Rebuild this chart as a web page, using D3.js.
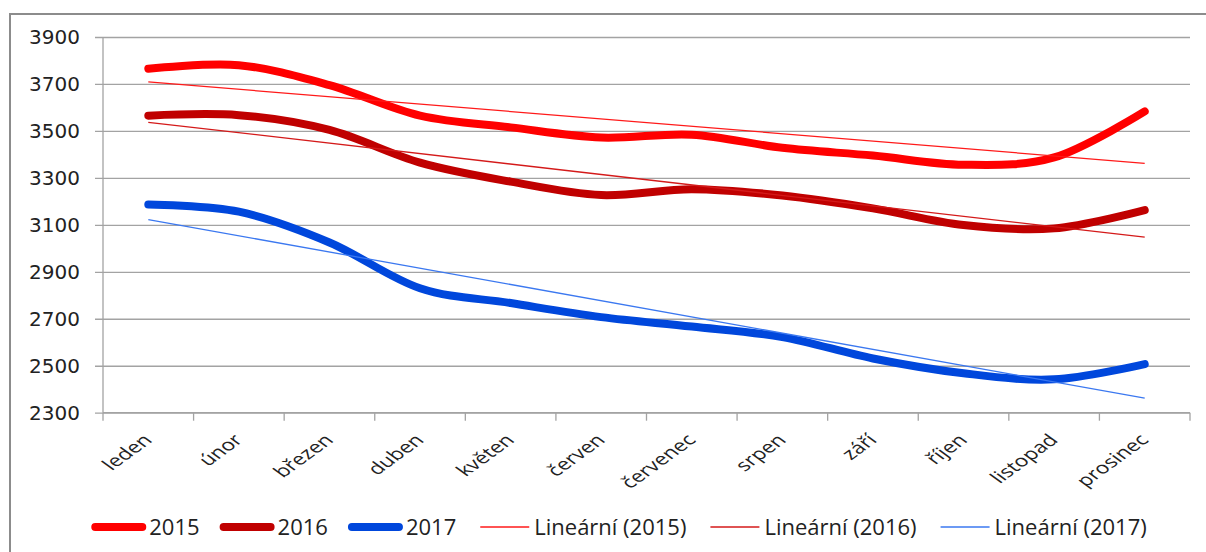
<!DOCTYPE html>
<html>
<head>
<meta charset="utf-8">
<script src="https://cdn.jsdelivr.net/npm/d3@7"></script>
<style>
  body { margin: 0; background: #fff; }
  svg { display: block; }
</style>
</head>
<body>
<div id="wrapper"></div>
<script>
// data
const months = ["leden", "únor", "březen", "duben", "květen", "červen",
    "červenec", "srpen", "září", "říjen", "listopad", "prosinec"];
const values2015 = [3765, 3780, 3695, 3565, 3515, 3472, 3484, 3428, 3395, 3356, 3387, 3583];
const values2016 = [3565, 3567, 3504, 3365, 3284, 3227, 3252, 3225, 3170, 3099, 3085, 3163];
const values2017 = [3187, 3156, 3025, 2830, 2767, 2707, 2667, 2622, 2531, 2468, 2442, 2507];
const yTicks = [2300, 2500, 2700, 2900, 3100, 3300, 3500, 3700, 3900];
const seriesNames = ["2015", "2016", "2017"];
const trendNames = ["Lineární (2015)", "Lineární (2016)", "Lineární (2017)"];

const colors = ["#ff0000", "#c00000", "#0047dc"];
const trendColors = ["#ff1a1a", "#d41a1a", "#3b78f0"];

var dimension = {
    width: 1206,
    height: 552,
    left: 103,
    right: 1190,
    top: 37,
    bottom: 412.7
};

const svg = d3.select("#wrapper").append("svg")
    .attr("width", dimension.width)
    .attr("height", dimension.height);

// outer chart border (runs off the right and bottom edge)
svg.append("rect")
    .attr("x", 10).attr("y", 14)
    .attr("width", 1300).attr("height", 700)
    .attr("fill", "none")
    .attr("stroke", "#8c8c8c")
    .attr("stroke-width", 2);

const xScaler = d3.scaleBand()
    .domain(months)
    .range([dimension.left, dimension.right]);

const yScaler = d3.scaleLinear()
    .domain([2300, 3900])
    .range([dimension.bottom, dimension.top]);

const xCenter = (m) => xScaler(m) + xScaler.bandwidth() / 2;

// y axis with gridlines
const yAxis = d3.axisLeft(yScaler)
    .tickValues(yTicks)
    .tickSize(-(dimension.right - 95))
    .tickPadding(15)
    .tickFormat(d3.format("d"));

const yg = svg.append("g")
    .attr("transform", "translate(95,0)")
    .call(yAxis);
yg.select(".domain").remove();
yg.selectAll("line").attr("stroke", "#a3a3a3").attr("stroke-width", 1.3);
yg.selectAll("text")
    .attr("font-family", "DejaVu Sans")
    .attr("font-size", 20)
    .attr("fill", "#222");

// vertical axis line
svg.append("line")
    .attr("x1", dimension.left).attr("x2", dimension.left)
    .attr("y1", dimension.top).attr("y2", dimension.bottom)
    .attr("stroke", "#a3a3a3").attr("stroke-width", 1.3);

// x axis line + ticks on category boundaries
svg.append("line")
    .attr("x1", dimension.left).attr("x2", dimension.right)
    .attr("y1", dimension.bottom).attr("y2", dimension.bottom)
    .attr("stroke", "#a3a3a3").attr("stroke-width", 1.3);

svg.append("g").selectAll("line")
    .data(d3.range(months.length + 1))
    .join("line")
    .attr("x1", i => dimension.left + i * xScaler.step())
    .attr("x2", i => dimension.left + i * xScaler.step())
    .attr("y1", dimension.bottom)
    .attr("y2", dimension.bottom + 8)
    .attr("stroke", "#a3a3a3").attr("stroke-width", 1.3);

// category labels, slanted
svg.append("g").selectAll("text")
    .data(months)
    .join("text")
    .attr("transform", m => `translate(${xCenter(m) + 5},441) scale(1.37,1) rotate(-45)`)
    .attr("text-anchor", "end")
    .attr("font-family", "Open Sans")
    .attr("font-size", 16.5)
    .attr("fill", "#222")
    .text(m => m);

// smoothed series lines
const allSeries = [values2015, values2016, values2017];

const lineGenerator = d3.line()
    .x((d, i) => xCenter(months[i]))
    .y(d => yScaler(d))
    .curve(d3.curveCardinal.tension(0));

allSeries.forEach((vals, k) => {
    svg.append("path")
        .attr("d", lineGenerator(vals))
        .attr("fill", "none")
        .attr("stroke", colors[k])
        .attr("stroke-width", 8)
        .attr("stroke-linecap", "round")
        .attr("stroke-linejoin", "round");
});

// linear trend lines (least squares over month index)
function linearFit(vals) {
    const n = vals.length;
    const xs = d3.range(1, n + 1);
    const mx = d3.mean(xs), my = d3.mean(vals);
    const sxy = d3.sum(xs, (x, i) => (x - mx) * (vals[i] - my));
    const sxx = d3.sum(xs, x => (x - mx) * (x - mx));
    const slope = sxy / sxx;
    return xs.map(x => my + slope * (x - mx));
}

allSeries.forEach((vals, k) => {
    const fit = linearFit(vals);
    svg.append("line")
        .attr("x1", xCenter(months[0]))
        .attr("y1", yScaler(fit[0]))
        .attr("x2", xCenter(months[months.length - 1]))
        .attr("y2", yScaler(fit[fit.length - 1]))
        .attr("stroke", trendColors[k])
        .attr("stroke-width", 1.3);
});

// legend
const legendItems = seriesNames.map((s, k) => ({name: s, color: colors[k], thick: true}))
    .concat(trendNames.map((s, k) => ({name: s, color: trendColors[k], thick: false})));

const legend = svg.append("g");
let lx = 0;
legendItems.forEach(item => {
    const g = legend.append("g").attr("transform", `translate(${lx},0)`);
    if (item.thick) {
        g.append("line")
            .attr("x1", 4).attr("x2", 51)
            .attr("y1", 0).attr("y2", 0)
            .attr("stroke", item.color)
            .attr("stroke-width", 8)
            .attr("stroke-linecap", "round");
    } else {
        g.append("line")
            .attr("x1", 4).attr("x2", 53)
            .attr("y1", 0).attr("y2", 0)
            .attr("stroke", item.color)
            .attr("stroke-width", 1.5);
    }
    const t = g.append("text")
        .attr("x", 58)
        .attr("y", 8)
        .attr("font-family", "Open Sans")
        .attr("font-size", 22)
        .attr("fill", "#222")
        .text(item.name);
    lx += 58 + t.node().getComputedTextLength() + 20;
});
const legendWidth = lx - 20;
legend.attr("transform", `translate(${619 - legendWidth / 2},527)`);
</script>
</body>
</html>
